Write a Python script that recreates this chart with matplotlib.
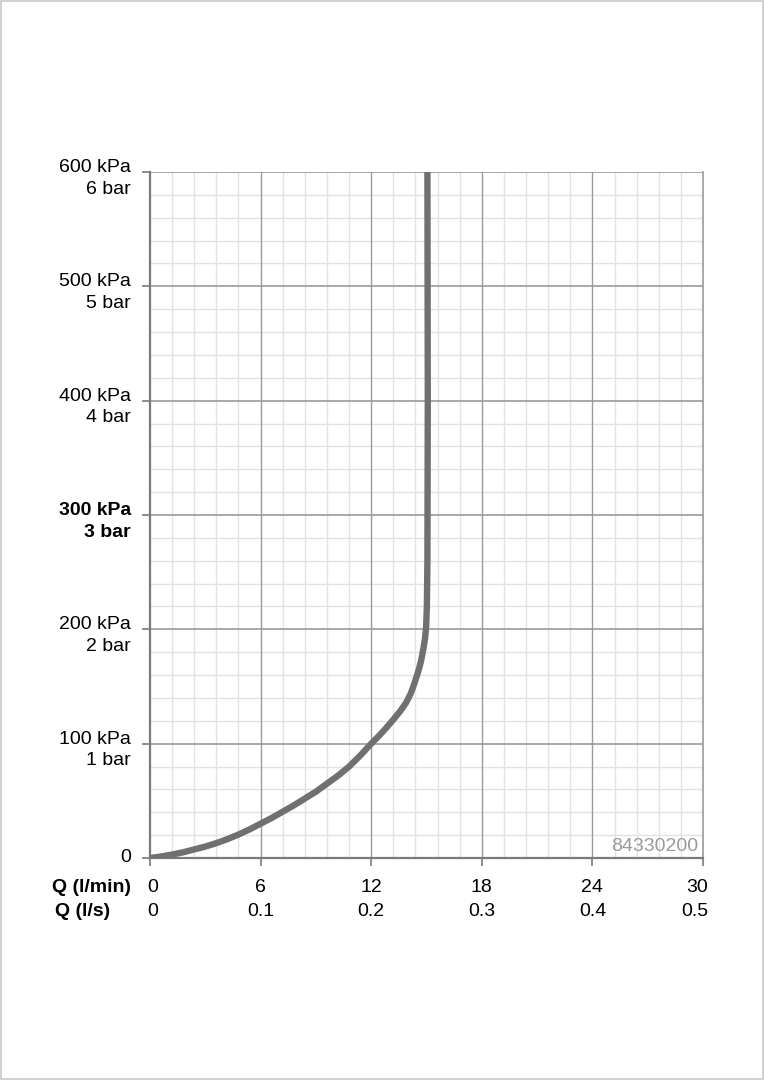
import matplotlib.pyplot as plt
import matplotlib.transforms as mtransforms
from matplotlib.patches import Rectangle

plt.rcParams['font.family'] = ['Liberation Sans', 'DejaVu Sans']

# flow vs pressure curve
flow_lmin = [0, 0.6, 1.2, 1.8, 2.4, 3.0, 3.6, 4.2, 4.8, 5.4, 6, 6.6, 7.2, 7.8,
             8.4, 9.0, 9.6, 10.2, 10.8, 11.4, 12, 12.4, 12.8, 13.2, 13.6, 13.9,
             14.15, 14.35, 14.55, 14.7, 14.82, 14.92, 14.98, 15.02, 15.05, 15.07, 15.05]
pressure_kpa = [0, 1.3, 3, 5, 7.5, 10, 13, 16.5, 20.5, 25, 30, 35, 40.5, 46,
                52, 58, 65, 72, 80, 89.5, 100, 106.5, 113.5, 121, 129, 136,
                144, 153, 163, 172, 182, 192, 202, 220, 260, 400, 600]

y_ticks = [0, 100, 200, 300, 400, 500, 600]
y_kpa_labels = ['0', '100 kPa', '200 kPa', '300 kPa', '400 kPa', '500 kPa', '600 kPa']
y_bar_labels = ['', '1 bar', '2 bar', '3 bar', '4 bar', '5 bar', '6 bar']
x_ticks = [0, 6, 12, 18, 24, 30]
x_lmin_labels = ['0', '6', '12', '18', '24', '30']
x_ls_labels = ['0', '0.1', '0.2', '0.3', '0.4', '0.5']
code_label = '84330200'

fig = plt.figure(figsize=(7.64, 10.8), dpi=100)
fig.patches.append(Rectangle((0.001, 0.001), 0.998, 0.998, transform=fig.transFigure,
                             fill=False, edgecolor='#c8c8c8', linewidth=1.2))
ax = fig.add_axes([150/764, 1 - 858/1080, 553/764, 686/1080])

ax.set_xlim(0, 30)
ax.set_ylim(0, 600)

# grid: minor every 1.2 l/min and 20 kPa, major at the ticks
for i in range(26):
    if i % 5:
        ax.axvline(i * 1.2, color='#e2e2e2', lw=1.0, zorder=0)
for i in range(31):
    if i % 5:
        ax.axhline(i * 20, color='#e2e2e2', lw=1.0, zorder=0)
for v in x_ticks[1:-1]:
    ax.axvline(v, color='#9a9a9a', lw=1.0, zorder=1)
for v in y_ticks[1:]:
    ax.axhline(v, color='#9a9a9a', lw=1.2, zorder=1)

ax.plot(flow_lmin, pressure_kpa, color='#707070', lw=4.6,
        solid_capstyle='round', solid_joinstyle='round', zorder=3)

for s in ['left', 'bottom']:
    ax.spines[s].set_color('#7a7a7a')
    ax.spines[s].set_linewidth(1.6)
ax.spines['top'].set_visible(False)
ax.spines['right'].set_color('#9a9a9a')
ax.spines['right'].set_linewidth(1.2)

ax.set_xticks(x_ticks)
ax.set_yticks(y_ticks)
ax.set_xticklabels([])
ax.set_yticklabels([])
ax.tick_params(axis='both', length=6, width=1.2, color='#7a7a7a', direction='out')

# y labels: two lines, kPa baseline sits on the tick
ytr = mtransforms.blended_transform_factory(fig.transFigure, ax.transData)
for v, kpa, bar in zip(y_ticks, y_kpa_labels, y_bar_labels):
    weight = 'bold' if v == 300 else 'normal'
    if v == 0:
        ax.text(131/764, v, kpa, transform=ytr, ha='right', va='center', fontsize=14)
        continue
    ax.text(131/764, v, kpa, transform=ytr, ha='right', va='baseline',
            fontsize=14, fontweight=weight)
    off = mtransforms.offset_copy(ytr, fig=fig, y=-15.5, units='points')
    ax.text(131/764, v, bar, transform=off, ha='right', va='baseline',
            fontsize=14, fontweight=weight)

# x labels: two rows, ends pulled outward a little
for v, a, b in zip(x_ticks, x_lmin_labels, x_ls_labels):
    px = 150 + v * 553 / 30
    if v == 0:
        ha, px = 'left', 147
    elif v == 30:
        ha, px = 'right', 708
    else:
        ha = 'center'
    fig.text(px/764, 1 - 888/1080, a, ha=ha, va='center', fontsize=14)
    fig.text(px/764, 1 - 911/1080, b, ha=ha, va='center', fontsize=14)
fig.text(52/764, 1 - 888/1080, 'Q (l/min)', ha='left', va='center', fontsize=14, fontweight='bold')
fig.text(55/764, 1 - 911/1080, 'Q (l/s)', ha='left', va='center', fontsize=14, fontweight='bold')

ax.text(29.75, 3, code_label, ha='right', va='bottom', fontsize=14, color='#9a9a9a')

fig.savefig('out.png', dpi=100)
